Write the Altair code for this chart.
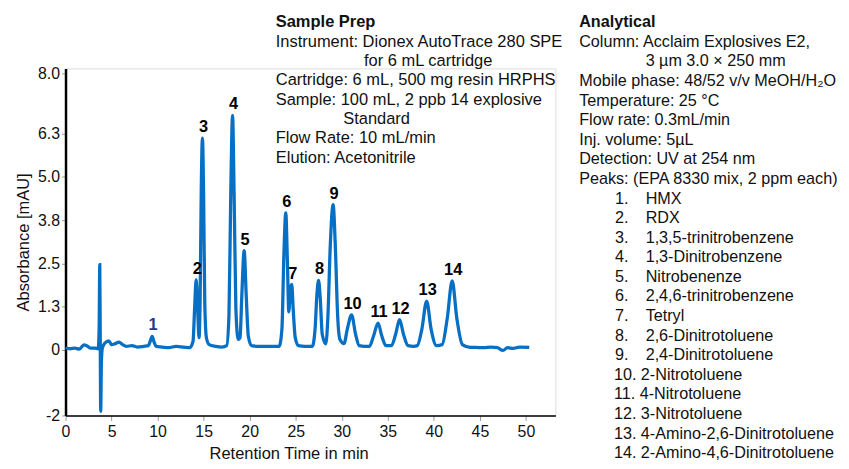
import altair as alt
import pandas as pd

# ---------------- data ----------------
time_min = [0.0, 0.5, 1.0, 1.5, 2.0, 2.3, 2.7, 3.2, 3.55, 3.65, 3.72, 3.77, 3.82, 3.9, 4.0,
            4.3, 4.7, 5.0, 5.4, 5.8, 6.2, 6.6, 7.2, 7.8, 8.5, 9.0, 9.2, 9.41, 9.62, 9.85,
            10.5, 11.2, 12.0, 12.8, 13.5, 13.85, 14.02, 14.19, 14.36, 14.5, 14.62, 14.74,
            14.87, 15.0, 15.12, 15.3, 15.6, 16.3, 17.0, 17.5, 17.75, 17.95, 18.14, 18.32,
            18.5, 18.75, 18.95, 19.15, 19.4, 19.62, 19.85, 20.2, 21.0, 22.0, 23.2, 23.5,
            23.72, 23.92, 24.1, 24.25, 24.42, 24.57, 24.72, 24.95, 25.3, 26.0, 26.8, 27.1,
            27.3, 27.48, 27.66, 27.88, 28.27, 28.5, 28.75, 29.06, 29.3, 29.55, 29.8, 30.25,
            30.6, 31.07, 31.5, 31.9, 32.5, 33.0, 33.45, 33.94, 34.35, 34.8, 35.4, 35.85,
            36.28, 36.7, 37.2, 37.8, 38.2, 38.7, 39.22, 39.7, 40.3, 40.9, 41.45, 41.99,
            42.5, 43.1, 43.8, 44.6, 45.4, 46.2, 46.9, 47.5, 48.0, 48.6, 49.3, 50.36]
absorbance = [0.06, 0.03, 0.05, 0.02, 0.14, 0.12, 0.05, 0.05, 0.03, 0.6, 2.46, 0.4, -1.78, -0.3, 0.05,
              0.2, 0.26, 0.15, 0.18, 0.22, 0.15, 0.1, 0.12, 0.08, 0.1, 0.12, 0.25, 0.39, 0.22, 0.1,
              0.08, 0.06, 0.1, 0.08, 0.06, 0.25, 1.2, 2.03, 1.1, 0.35, 1.5, 4.6,
              6.12, 4.4, 1.4, 0.35, 0.15, 0.1, 0.08, 0.12, 1.0, 4.6, 6.78, 4.3,
              1.2, 0.3, 0.35, 1.6, 2.87, 1.6, 0.4, 0.12, 0.1, 0.1, 0.1, 0.6,
              2.8, 3.96, 2.5, 1.1, 1.75, 1.89, 1.2, 0.35, 0.12, 0.1, 0.1, 0.6,
              1.6, 2.01, 1.5, 0.45, 0.17, 1.0, 3.0, 4.2, 3.0, 1.0, 0.3, 0.18,
              0.6, 1.01, 0.45, 0.12, 0.1, 0.1, 0.4, 0.77, 0.4, 0.12, 0.12, 0.45,
              0.87, 0.45, 0.12, 0.1, 0.12, 0.6, 1.41, 0.6, 0.12, 0.15, 0.9, 1.99,
              0.9, 0.15, 0.08, 0.07, 0.06, 0.08, 0.06, -0.02, 0.06, 0.04, 0.08, 0.07]

peak_ids = ["1", "2", "3", "4", "5", "6", "7", "8", "9", "10", "11", "12", "13", "14"]
peak_time = [9.41, 14.19, 14.87, 18.14, 19.4, 23.92, 24.57, 27.48, 29.06, 31.07, 33.94, 36.28, 39.22, 41.99]
peak_height = [0.39, 2.03, 6.12, 6.78, 2.87, 3.96, 1.89, 2.01, 4.2, 1.01, 0.77, 0.87, 1.41, 1.99]

x_tick_values = [0, 5, 10, 15, 20, 25, 30, 35, 40, 45, 50]
y_tick_values = [-1.9, 0, 1.25, 2.5, 3.75, 5, 6.25, 8]
y_tick_labels = ["-2", "0", "1.3", "2.5", "3.8", "5.0", "6.3", "8.0"]

prep_lines = ["Sample Prep",
              "Instrument: Dionex AutoTrace 280 SPE",
              "for 6 mL cartridge",
              "Cartridge: 6 mL, 500 mg resin HRPHS",
              "Sample: 100 mL, 2 ppb 14 explosive",
              "Standard",
              "Flow Rate: 10 mL/min",
              "Elution: Acetonitrile"]
analytical_lines = ["Analytical",
                    "Column: Acclaim Explosives E2,",
                    "3 µm 3.0 × 250 mm",
                    "Mobile phase: 48/52 v/v MeOH/H₂O",
                    "Temperature: 25 °C",
                    "Flow rate: 0.3mL/min",
                    "Inj. volume: 5µL",
                    "Detection: UV at 254 nm",
                    "Peaks: (EPA 8330 mix, 2 ppm each)"]
peak_names = ["HMX", "RDX", "1,3,5-trinitrobenzene", "1,3-Dinitrobenzene", "Nitrobenenze",
              "2,4,6-trinitrobenzene", "Tetryl", "2,6-Dinitrotoluene", "2,4-Dinitrotoluene",
              "2-Nitrotoluene", "4-Nitrotoluene", "3-Nitrotoluene",
              "4-Amino-2,6-Dinitrotoluene", "2-Amino-4,6-Dinitrotoluene"]

# ---------------- layout ----------------
FONT = "Liberation Sans"
FS = 16
TFS = 16.6   # sample-prep block / axis titles
AFS = 16.3   # analytical block
LINE_COLOR = "#0870C4"
W, H = 494, 350
OX, OY = 66, 67  # plot origin on page

trace = pd.DataFrame({"t": time_min, "a": absorbance})
peaks = pd.DataFrame({"id": peak_ids, "t": peak_time, "a": peak_height})

conds = " : ".join(f"datum.value == {v} ? '{l}'" for v, l in zip(y_tick_values, y_tick_labels)) + " : ''"

x_scale = alt.Scale(domain=[0, 53.2], nice=False, zero=False)
y_scale = alt.Scale(domain=[-1.9, 8.14], nice=False, zero=False)

line = alt.Chart(trace).mark_line(color=LINE_COLOR, strokeWidth=3.3, interpolate="monotone").encode(
    x=alt.X("t:Q", scale=x_scale,
            axis=alt.Axis(values=x_tick_values, title="Retention Time in min", labelFlush=False,
                          labelFontSize=FS, titleFontSize=TFS, labelFont=FONT, titleFont=FONT,
                          titleFontWeight="normal", labelColor="#111", titleColor="#111",
                          domainColor="#000", domainWidth=1.5, tickColor="#999", tickSize=5,
                          labelPadding=3, titlePadding=6, titleX=225, grid=False)),
    y=alt.Y("a:Q", scale=y_scale,
            axis=alt.Axis(values=y_tick_values, labelExpr=conds, title="Absorbance [mAU]",
                          labelFontSize=FS, titleFontSize=TFS, labelFont=FONT, titleFont=FONT,
                          titleFontWeight="normal", labelColor="#111", titleColor="#111",
                          domainColor="#000", domainWidth=2.5, tickColor="#999", tickSize=4,
                          labelPadding=2, titlePadding=6, grid=False)),
)

labels = alt.Chart(peaks).mark_text(font=FONT, fontSize=16.5, fontWeight="bold", dy=-11, dx=1,
                                    baseline="middle", align="center").encode(
    x=alt.X("t:Q", scale=x_scale),
    y=alt.Y("a:Q", scale=y_scale),
    text="id:N",
    color=alt.condition(alt.datum.id == "1", alt.value("#1E3C8C"), alt.value("#000")),
)

# text blocks (pixel positions relative to plot origin)
rows = []
prep_x = [278, 278, 367, 278, 278, 346, 278, 278]
for i, s in enumerate(prep_lines):
    rows.append({"px": prep_x[i] - OX, "py": 20.5 + i * 19.5 - OY, "s": s, "b": i == 0, "fs": TFS})
ana_x = [584, 584, 651, 584, 584, 584, 584, 584, 584]
step = 19.75
for i, s in enumerate(analytical_lines):
    rows.append({"px": ana_x[i] - OX, "py": 20.5 + i * step - OY, "s": s, "b": i == 0, "fs": AFS})
for k, name in enumerate(peak_names):
    i = len(analytical_lines) + k
    y = 20.5 + i * step - OY
    if k < 9:
        rows.append({"px": 620 - OX, "py": y, "s": f"{k + 1}.", "b": False, "fs": AFS})
        rows.append({"px": 651 - OX, "py": y, "s": name, "b": False, "fs": AFS})
    else:
        rows.append({"px": 619 - OX, "py": y, "s": f"{k + 1}. {name}", "b": False, "fs": AFS})
txt = pd.DataFrame(rows)

text_norm = alt.Chart(txt[~txt.b]).mark_text(font=FONT, align="left", baseline="middle",
                                            color="#111").encode(
    x=alt.X("px:Q", scale=None), y=alt.Y("py:Q", scale=None), text="s:N",
    size=alt.Size("fs:Q", scale=None, legend=None))
text_bold = alt.Chart(txt[txt.b]).mark_text(font=FONT, fontWeight="bold", align="left",
                                           baseline="middle", color="#111").encode(
    x=alt.X("px:Q", scale=None), y=alt.Y("py:Q", scale=None), text="s:N",
    size=alt.Size("fs:Q", scale=None, legend=None))

chart = alt.layer(line, labels, text_norm, text_bold).properties(
    width=W, height=H,
    autosize=alt.AutoSizeParams(type="none"),
    padding={"left": OX - 8, "top": OY - 8, "right": 288, "bottom": 44},
).configure_view(stroke=None).configure(background="white")

chart.save("out.html", embed_options={"renderer": "svg", "actions": False})
